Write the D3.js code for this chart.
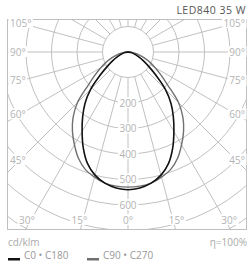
<!doctype html>
<html>
<head>
<meta charset="utf-8">
<script src="https://d3js.org/d3.v7.min.js"></script>
<style>
  body { margin: 0; background: #fff; }
  svg { display: block; font-family: "Open Sans", Lato, sans-serif; }
  .grid { fill: none; stroke: #c0c0c0; stroke-width: 1; }
  .lbl { fill: #b3b3b3; font-size: 10px; }
</style>
</head>
<body>
<svg width="249" height="266"></svg>
<script>
// intensity (cd/klm) at gamma angles 0..90, symmetric halves
var angles = [0, 5, 10, 15, 20, 25, 30, 35, 40, 45, 50, 55, 60, 65, 70, 75, 80, 85, 90];
var c0c180 = [540, 535, 522, 500, 465, 415, 360, 310, 262, 208, 145, 100, 70, 48, 33, 21, 12, 5, 0];
var c90c270 = [530, 528, 522, 508, 490, 460, 420, 380, 335, 280, 205, 158, 122, 94, 68, 46, 27, 12, 0];
var ringValues = [100, 200, 300, 400, 500, 600, 700, 800];
var ringLabels = [200, 300, 400, 500, 600];
var angleLabels = [0, 15, 30, 45, 60, 75, 90, 105];

var svg = d3.select("svg");
var box = {x0: 7.5, y0: 19.5, x1: 246.5, y1: 229.5};
var cx = 128, cy = 52;
var r = d3.scaleLinear().domain([0, 100]).range([0, 25.5]);

svg.append("text").attr("x", 246).attr("y", 14).attr("text-anchor", "end")
  .attr("font-size", 10.5).attr("fill", "#555").attr("letter-spacing", 0.5)
  .text("LED840 35 W");

svg.append("clipPath").attr("id", "clip").append("rect")
  .attr("x", box.x0).attr("y", box.y0)
  .attr("width", box.x1 - box.x0).attr("height", box.y1 - box.y0);

var g = svg.append("g").attr("clip-path", "url(#clip)");

// radial lines every 15 degrees
d3.range(0, 360, 15).forEach(function(a) {
  var t = a * Math.PI / 180;
  g.append("line").attr("class", "grid")
    .attr("x1", cx + r(100) * Math.sin(t)).attr("y1", cy + r(100) * Math.cos(t))
    .attr("x2", cx + 400 * Math.sin(t)).attr("y2", cy + 400 * Math.cos(t));
});

g.selectAll("circle.ring").data(ringValues).enter().append("circle")
  .attr("class", "grid").attr("cx", cx).attr("cy", cy).attr("r", d => r(d));

svg.append("rect").attr("class", "grid")
  .attr("x", box.x0).attr("y", box.y0)
  .attr("width", box.x1 - box.x0).attr("height", box.y1 - box.y0);

// label with white background
function label(x, y, txt, anchor) {
  var t = svg.append("text").attr("class", "lbl").attr("x", x).attr("y", y)
    .attr("text-anchor", anchor).attr("dy", "0.35em").text(txt);
  var b = t.node().getBBox();
  svg.insert("rect", function() { return t.node(); })
    .attr("x", b.x - 1.5).attr("y", b.y + 1.5).attr("width", b.width + 3).attr("height", b.height - 3)
    .attr("fill", "#fff");
}

ringLabels.forEach(function(v) { label(cx, cy + r(v), v, "middle"); });

angleLabels.forEach(function(a) {
  var t = a * Math.PI / 180;
  if (a <= 30) {
    var dx = (222 - cy) * Math.tan(t);
    if (a == 0) label(cx, 220, "0°", "middle");
    else {
      label(cx - dx - 3, 220, a + "°", "middle");
      label(cx + dx + 3, 220, a + "°", "middle");
    }
  } else {
    var y = cy + (cx - 20) / Math.tan(t);
    label(10, y, a + "°", "start");
    label(245, y, a + "°", "end");
  }
});

// intensity curves
function curvePoints(vals) {
  var pts = [];
  for (var i = angles.length - 1; i >= 0; i--) pts.push([-angles[i], vals[i]]);
  for (var j = 1; j < angles.length; j++) pts.push([angles[j], vals[j]]);
  return pts;
}
var line = d3.lineRadial()
  .angle(d => Math.PI - d[0] * Math.PI / 180)
  .radius(d => r(d[1]))
  .curve(d3.curveCatmullRom);

var plot = svg.append("g").attr("transform", "translate(" + cx + "," + cy + ")");
plot.append("path").attr("d", line(curvePoints(c90c270)))
  .attr("fill", "none").attr("stroke", "#707070").attr("stroke-width", 1.4);
plot.append("path").attr("d", line(curvePoints(c0c180)))
  .attr("fill", "none").attr("stroke", "#111").attr("stroke-width", 1.6);

// footer
svg.append("text").attr("x", 8).attr("y", 246).attr("font-size", 10).attr("fill", "#aaa").text("cd/klm");
svg.append("text").attr("x", 247).attr("y", 246).attr("font-size", 10).attr("fill", "#aaa")
  .attr("text-anchor", "end").text("η=100%");

var legend = [{name: "C0 • C180", color: "#111", x: 8}, {name: "C90 • C270", color: "#6f6f6f", x: 87}];
legend.forEach(function(d) {
  svg.append("rect").attr("x", d.x).attr("y", 258).attr("width", 12).attr("height", 2.5).attr("fill", d.color);
  svg.append("text").attr("x", d.x + 16).attr("y", 259).attr("font-size", 10).attr("fill", "#999").text(d.name);
});
</script>
</body>
</html>
